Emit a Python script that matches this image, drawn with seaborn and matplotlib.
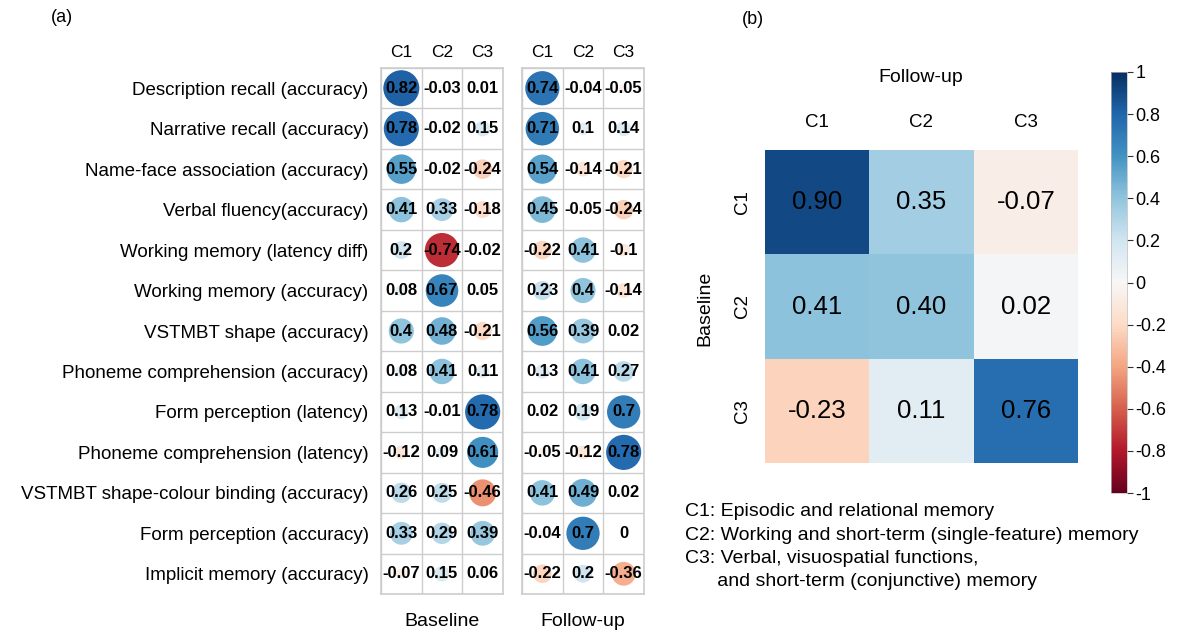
import numpy as np
import pandas as pd
import matplotlib
matplotlib.use("Agg")
import matplotlib.pyplot as plt
import seaborn as sns

sns.set_theme(style="white")
plt.rcParams['font.family'] = ['Liberation Sans', 'DejaVu Sans']
plt.rcParams['text.color'] = 'black'
plt.rcParams['xtick.color'] = 'black'
plt.rcParams['ytick.color'] = 'black'
plt.rcParams['axes.labelcolor'] = 'black'

# ---------------- data ----------------
tasks = [
    "Description recall (accuracy)",
    "Narrative recall (accuracy)",
    "Name-face association (accuracy)",
    "Verbal fluency(accuracy)",
    "Working memory (latency diff)",
    "Working memory (accuracy)",
    "VSTMBT shape (accuracy)",
    "Phoneme comprehension (accuracy)",
    "Form perception (latency)",
    "Phoneme comprehension (latency)",
    "VSTMBT shape-colour binding (accuracy)",
    "Form perception (accuracy)",
    "Implicit memory (accuracy)",
]
components = ["C1", "C2", "C3"]

baseline_c1 = [0.82, 0.78, 0.55, 0.41, 0.2, 0.08, 0.4, 0.08, 0.13, -0.12, 0.26, 0.33, -0.07]
baseline_c2 = [-0.03, -0.02, -0.02, 0.33, -0.74, 0.67, 0.48, 0.41, -0.01, 0.09, 0.25, 0.29, 0.15]
baseline_c3 = [0.01, 0.15, -0.24, -0.18, -0.02, 0.05, -0.21, 0.11, 0.78, 0.61, -0.46, 0.39, 0.06]

followup_c1 = [0.74, 0.71, 0.54, 0.45, -0.22, 0.23, 0.56, 0.13, 0.02, -0.05, 0.41, -0.04, -0.22]
followup_c2 = [-0.04, 0.1, -0.14, -0.05, 0.41, 0.4, 0.39, 0.41, 0.19, -0.12, 0.49, 0.7, 0.2]
followup_c3 = [-0.05, 0.14, -0.21, -0.24, -0.1, -0.14, 0.02, 0.27, 0.7, 0.78, 0.02, 0, -0.36]

# congruence between baseline (rows) and follow-up (columns) components
congruence = [
    [0.90, 0.35, -0.07],
    [0.41, 0.40, 0.02],
    [-0.23, 0.11, 0.76],
]

legend_lines = [
    "C1: Episodic and relational memory",
    "C2: Working and short-term (single-feature) memory",
    "C3: Verbal, visuospatial functions,",
    "      and short-term (conjunctive) memory",
]

# ---------------- figure ----------------
W, H = 1179, 635
fig = plt.figure(figsize=(W / 100, H / 100), dpi=100)


def fx(px):
    return px / W


def fy(py):
    return 1 - py / H


grid_col = "#cdcdcd"


def long_frame(cols):
    rows = []
    for j, col in enumerate(cols):
        for i, v in enumerate(col):
            rows.append({"x": j + 0.5, "y": i + 0.5, "r": v, "absr": abs(v)})
    return pd.DataFrame(rows)


def corr_panel(ax, cols, show_labels):
    df = long_frame(cols)
    sns.scatterplot(data=df, x="x", y="y", hue="r", palette="RdBu",
                    hue_norm=(-1, 1), size="absr", sizes=(0, 820),
                    size_norm=(0, 1), legend=False, edgecolor="none",
                    linewidth=0, ax=ax)
    for _, row in df.iterrows():
        ax.text(row["x"], row["y"], f"{row['r']:g}", ha="center", va="center",
                fontsize=12, fontweight="bold", color="black")
    ax.set_xlim(0, 3)
    ax.set_ylim(len(tasks), 0)
    ax.set_xticks(np.arange(3) + 0.5)
    ax.set_xticklabels(components, fontsize=12.5)
    ax.xaxis.tick_top()
    ax.tick_params(axis="x", length=0, pad=6)
    ax.set_xticks(np.arange(4), minor=True)
    ax.set_yticks(np.arange(len(tasks) + 1), minor=True)
    ax.grid(which="minor", color=grid_col, linewidth=1.0)
    ax.grid(which="major", visible=False)
    ax.tick_params(which="minor", length=0)
    if show_labels:
        ax.set_yticks(np.arange(len(tasks)) + 0.5)
        ax.set_yticklabels(tasks, fontsize=13.5)
        ax.tick_params(axis="y", length=0, pad=9)
    else:
        ax.set_yticks([])
    ax.set_xlabel("")
    ax.set_ylabel("")
    for s in ax.spines.values():
        s.set_color(grid_col)
        s.set_linewidth(1.2)
        s.set_visible(True)
    ax.set_axisbelow(True)


left_b, right_b = 381, 503
left_f, right_f = 522, 644
top_g, bot_g = 68, 594

ax_b = fig.add_axes([fx(left_b), fy(bot_g), fx(right_b - left_b), (bot_g - top_g) / H])
ax_f = fig.add_axes([fx(left_f), fy(bot_g), fx(right_f - left_f), (bot_g - top_g) / H])
corr_panel(ax_b, [baseline_c1, baseline_c2, baseline_c3], True)
corr_panel(ax_f, [followup_c1, followup_c2, followup_c3], False)

fig.text(fx(442), fy(622), "Baseline", ha="center", va="center", fontsize=14)
fig.text(fx(583), fy(622), "Follow-up", ha="center", va="center", fontsize=14)
fig.text(fx(62), fy(18), "(a)", ha="center", va="center", fontsize=13)
fig.text(fx(753), fy(20), "(b)", ha="center", va="center", fontsize=13)

# ---------------- heatmap ----------------
hl, hr, ht, hb = 765, 1078, 150, 463
ax_h = fig.add_axes([fx(hl), fy(hb), fx(hr - hl), (hb - ht) / H])
cl, cr, ct, cb = 1111, 1127, 72, 493
ax_c = fig.add_axes([fx(cl), fy(cb), fx(cr - cl), (cb - ct) / H])

cong_df = pd.DataFrame(congruence, index=components, columns=components)
cbar_ticks = np.round(np.arange(-1, 1.01, 0.2), 1)
sns.heatmap(cong_df, cmap="RdBu", vmin=-1, vmax=1, annot=True, fmt=".2f",
            annot_kws={"fontsize": 18.5, "color": "black"},
            cbar_ax=ax_c, cbar_kws={"ticks": cbar_ticks}, linewidths=0,
            ax=ax_h)
ax_h.xaxis.tick_top()
ax_h.set_xticklabels(components, fontsize=13.5)
ax_h.set_yticklabels(components, fontsize=13.5, rotation=90, va="center")
ax_h.tick_params(axis="x", length=0, pad=14)
ax_h.tick_params(axis="y", length=0, pad=10)
ax_h.set_xlabel("")
ax_h.set_ylabel("")
fig.text(fx(921), fy(78), "Follow-up", ha="center", va="center", fontsize=14)
fig.text(fx(705), fy(308), "Baseline", ha="center", va="center", fontsize=14,
         rotation=90)

cbar = ax_h.collections[0].colorbar
cbar.set_ticks(cbar_ticks)
cbar.set_ticklabels([f"{(round(v, 1) + 0.0):g}" for v in cbar_ticks])
ax_c.tick_params(axis="y", right=True, length=4, width=0.8, color="#333333",
                 labelsize=13, pad=2)
cbar.outline.set_edgecolor("#bbbbbb")
cbar.outline.set_linewidth(0.5)

# ---------------- component descriptions ----------------
for k, line in enumerate(legend_lines):
    fig.text(fx(685), fy(512 + k * 23.3), line, ha="left", va="center",
             fontsize=14)

fig.savefig("out.png", dpi=100)
